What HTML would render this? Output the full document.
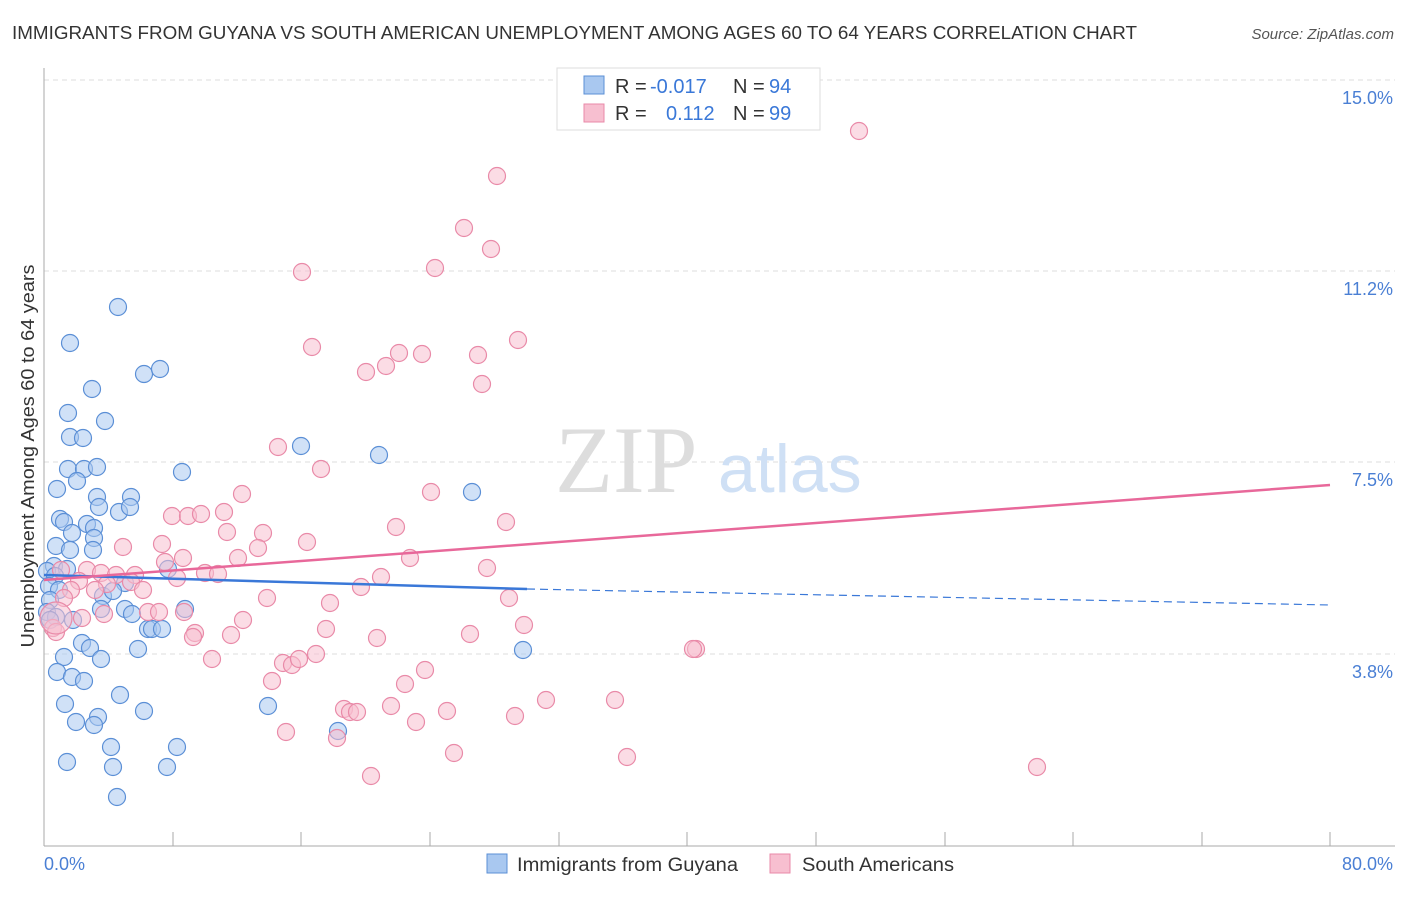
<!DOCTYPE html>
<html><head><style>
body{margin:0;background:#fff;font-family:"Liberation Sans",sans-serif;}
</style></head><body>
<svg width="1406" height="892" xmlns="http://www.w3.org/2000/svg" font-family="Liberation Sans, sans-serif">
<text x="12" y="39" font-size="18" fill="#333" textLength="1125" lengthAdjust="spacingAndGlyphs">IMMIGRANTS FROM GUYANA VS SOUTH AMERICAN UNEMPLOYMENT AMONG AGES 60 TO 64 YEARS CORRELATION CHART</text>
<text x="1394" y="39" font-size="15" fill="#555" text-anchor="end" font-style="italic">Source: ZipAtlas.com</text>
<g stroke="#ddd" stroke-dasharray="5,4" stroke-width="1">
<line x1="44" y1="80" x2="1395" y2="80"/><line x1="44" y1="271" x2="1395" y2="271"/><line x1="44" y1="462" x2="1395" y2="462"/><line x1="44" y1="654" x2="1395" y2="654"/>
</g>
<line x1="44" y1="68" x2="44" y2="846" stroke="#aaa"/>
<line x1="44" y1="846" x2="1395" y2="846" stroke="#aaa"/>
<g stroke="#aaa"><line x1="173" y1="832" x2="173" y2="846"/><line x1="301" y1="832" x2="301" y2="846"/><line x1="430" y1="832" x2="430" y2="846"/><line x1="559" y1="832" x2="559" y2="846"/><line x1="687" y1="832" x2="687" y2="846"/><line x1="816" y1="832" x2="816" y2="846"/><line x1="945" y1="832" x2="945" y2="846"/><line x1="1073" y1="832" x2="1073" y2="846"/><line x1="1202" y1="832" x2="1202" y2="846"/><line x1="1330" y1="832" x2="1330" y2="846"/></g>
<g font-size="18" fill="#4a7fd4" text-anchor="end">
<text x="1393" y="104">15.0%</text><text x="1393" y="295">11.2%</text><text x="1393" y="486">7.5%</text><text x="1393" y="678">3.8%</text>
</g>
<text x="44" y="870" font-size="18" fill="#4a7fd4">0.0%</text>
<text x="1393" y="870" font-size="18" fill="#4a7fd4" text-anchor="end">80.0%</text>
<text transform="translate(34,456) rotate(-90)" font-size="18" fill="#333" text-anchor="middle" textLength="383" lengthAdjust="spacingAndGlyphs">Unemployment Among Ages 60 to 64 years</text>
<text x="555" y="492" font-size="95" fill="#ddd" font-family="Liberation Serif, serif">ZIP</text>
<text x="718" y="492" font-size="68" fill="#cfe0f5">atlas</text>
<g fill="#a9c8f0" fill-opacity="0.55" stroke="#5b8fd6" stroke-width="1.2" id="b"></g>
<g fill="#f7bfd0" fill-opacity="0.55" stroke="#e98aa8" stroke-width="1.2" id="p"></g>
<line x1="44" y1="575" x2="527" y2="589" stroke="#3a78d8" stroke-width="2.5"/>
<line x1="527" y1="589" x2="1330" y2="605" stroke="#3a78d8" stroke-width="1.2" stroke-dasharray="8,5"/>
<line x1="44" y1="580" x2="1330" y2="485" stroke="#e8689a" stroke-width="2.5"/>
<rect x="557" y="68" width="263" height="62" fill="#fff" stroke="#ddd"/>
<rect x="584" y="76" width="20" height="18" fill="#a9c8f0" stroke="#5b8fd6"/>
<rect x="584" y="104" width="20" height="18" fill="#f7bfd0" stroke="#e98aa8"/>
<g font-size="20"><text x="615" y="93" fill="#333">R =</text><text x="650" y="93" fill="#3a78d8">-0.017</text><text x="733" y="93" fill="#333">N =</text><text x="769" y="93" fill="#3a78d8">94</text>
<text x="615" y="120" fill="#333">R =</text><text x="666" y="120" fill="#3a78d8">0.112</text><text x="733" y="120" fill="#333">N =</text><text x="769" y="120" fill="#3a78d8">99</text></g>
<rect x="487" y="854" width="20" height="19" fill="#a9c8f0" stroke="#5b8fd6"/>
<text x="517" y="871" font-size="19" fill="#333" textLength="221" lengthAdjust="spacingAndGlyphs">Immigrants from Guyana</text>
<rect x="770" y="854" width="20" height="19" fill="#f7bfd0" stroke="#e98aa8"/>
<text x="802" y="871" font-size="19" fill="#333" textLength="152" lengthAdjust="spacingAndGlyphs">South Americans</text>
</svg>
<script>
var B=[118,307,70,343,144,374,160,369,92,389,68,413,105,421,70,437,83,438,301,446,379,455,68,469,84,469,97,467,182,472,77,481,57,489,97,497,131,497,472,492,99,507,119,512,130,507,60,519,64,522,87,524,94,528,72,533,94,538,56,546,70,550,93,550,54,566,47,571,67,569,55,576,168,569,125,583,49,586,59,590,103,596,113,591,50,600,125,609,101,609,132,614,185,609,47,612,56,617,73,620,50,620,148,629,152,629,162,629,82,643,90,648,138,649,101,659,64,657,523,650,57,672,72,677,84,681,120,695,65,704,268,706,144,711,98,717,76,722,94,725,338,731,111,747,177,747,67,762,113,767,167,767,117,797];
var P=[859,131,497,176,464,228,491,249,435,268,302,272,518,340,312,347,399,353,422,354,478,355,386,366,366,372,482,384,278,447,321,469,431,492,242,494,224,512,172,516,188,516,201,514,506,522,227,532,396,527,263,533,307,542,123,547,162,544,258,548,410,558,183,558,238,558,165,562,487,568,61,570,87,570,101,573,116,575,135,575,205,573,218,574,177,578,381,577,79,581,107,584,131,582,143,590,361,587,71,590,95,590,64,598,267,598,509,598,330,603,148,612,159,612,184,612,82,618,104,614,243,620,53,628,56,632,326,629,524,625,195,633,231,635,470,634,193,637,377,638,316,654,696,649,693,649,212,659,283,663,292,665,299,659,425,670,272,681,405,684,515,716,546,700,615,700,344,709,350,712,357,712,391,706,447,711,416,722,286,732,337,738,454,753,627,757,371,776,1037,767];
function add(id,a){var g=document.getElementById(id),s="";for(var i=0;i<a.length;i+=2)s+='<circle cx="'+a[i]+'" cy="'+a[i+1]+'" r="8.5"/>';g.innerHTML=s;}
add("b",B);add("p",P);
document.getElementById("p").insertAdjacentHTML("beforeend",'<circle cx="56" cy="618" r="16"/>');
</script>
</body></html>
